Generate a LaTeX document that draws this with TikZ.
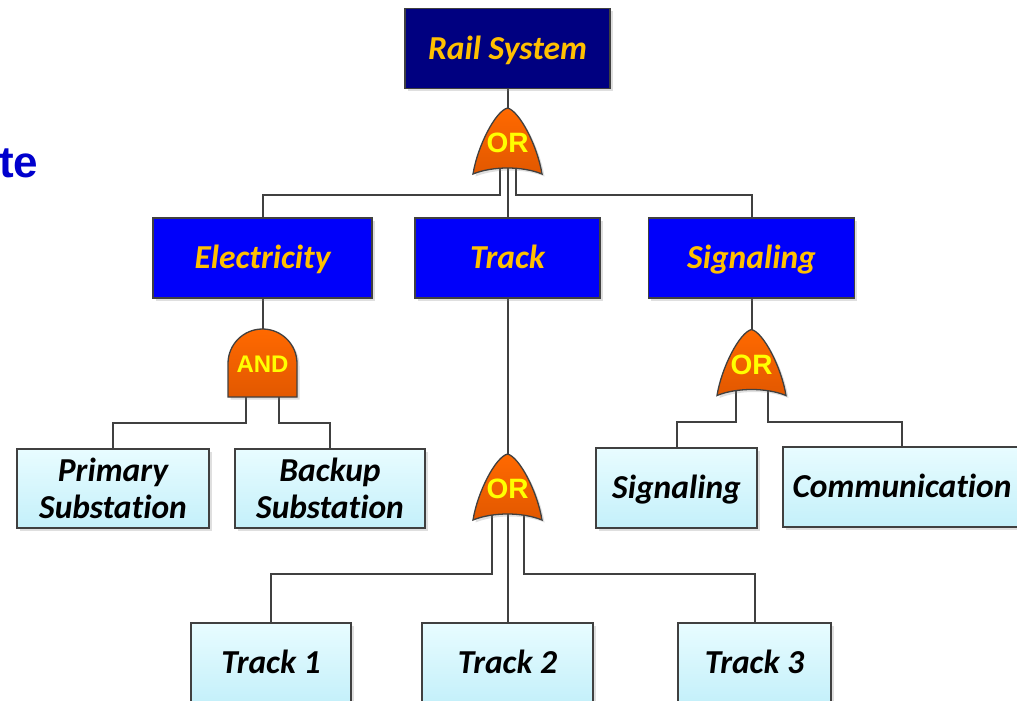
\documentclass[tikz,border=0pt]{standalone}
\usepackage{fontspec}
\setmainfont{Carlito}[Ligatures=NoCommon]
\newfontfamily\gatefont{Liberation Sans}
\usetikzlibrary{shadows,backgrounds}

\definecolor{railnavy}{RGB}{0,0,128}
\definecolor{subblue}{RGB}{0,0,250}
\definecolor{labelgold}{RGB}{255,192,0}
\definecolor{edgegray}{RGB}{64,64,64}
\definecolor{leaftop}{RGB}{232,252,255}
\definecolor{leafbot}{RGB}{196,240,250}
\definecolor{gatetop}{RGB}{255,105,0}
\definecolor{gatebot}{RGB}{226,88,0}
\definecolor{gatetext}{RGB}{255,255,0}
\definecolor{titleblue}{RGB}{0,0,205}

\begin{document}
\begin{tikzpicture}[x=1pt,y=-1pt,
  softshadow/.style={drop shadow={shadow xshift=2.5pt, shadow yshift=-2.5pt, opacity=0.25}},
  box/.style={draw=edgegray, line width=1.3pt, inner sep=0pt, align=center,
    font=\fontsize{33.5}{36.5}\selectfont\bfseries\itshape, softshadow},
  oneline/.style={text height=21.6pt, text depth=0pt},
  topbox/.style={box, oneline, fill=railnavy, text=labelgold},
  midbox/.style={box, oneline, fill=subblue, text=labelgold},
  leafbox/.style={box, top color=leaftop, bottom color=leafbot, text=black},
  wire/.style={draw=edgegray, line width=2pt},
  gatebody/.style={draw=edgegray, line width=1.3pt, top color=gatetop, bottom color=gatebot, softshadow},
  gatelabel/.style={text=gatetext, inner sep=0pt, font=\gatefont\bfseries\fontsize{28}{28}\selectfont},
  pics/orgate/.style={code={
    \path[gatebody] (-34.5,33) .. controls (-30,5) and (-12,-30) .. (0,-33)
      .. controls (12,-30) and (30,5) .. (34.5,33)
      .. controls (15,25) and (-15,25) .. cycle;
    \node[gatelabel] (-lbl) at (0,2) {OR};
    \coordinate (-top) at (0,-33);
    \coordinate (-c) at (0,20);
    \coordinate (-l1) at (-8,20);
    \coordinate (-r1) at (8,20);
    \coordinate (-l2) at (-16,20);
    \coordinate (-r2) at (16,20);
  }},
  pics/andgate/.style={code={
    \path[gatebody] (-34.5,33.5) -- (-34.5,0)
      .. controls (-34.5,-19.05) and (-19.05,-34.5) .. (0,-34.5)
      .. controls (19.05,-34.5) and (34.5,-19.05) .. (34.5,0)
      -- (34.5,33.5) -- cycle;
    \node[gatelabel, font=\gatefont\bfseries\fontsize{24}{24}\selectfont] (-lbl) at (0,0.5) {AND};
    \coordinate (-top) at (0,-34.5);
    \coordinate (-l2) at (-16.5,20);
    \coordinate (-r2) at (16.5,20);
  }},
]
\useasboundingbox (0,0) rectangle (1017,701);
\clip (0,0) rectangle (1017,701);

% heading fragment at the left edge
\node[anchor=base west, inner sep=0pt, text=titleblue,
      font=\gatefont\bfseries\fontsize{44}{44}\selectfont] (head) at (-1,177) {te};

% event boxes
\node[topbox, minimum width=205pt, minimum height=80pt] (rail) at (507.5,48.5) {Rail System};

\node[midbox, minimum width=219pt, minimum height=80pt] (elec) at (262.5,258) {Electricity};
\node[midbox, minimum width=185pt, minimum height=80pt] (track) at (507.5,258) {Track};
\node[midbox, minimum width=206pt, minimum height=80pt] (sig) at (751.5,258) {Signaling};

\node[leafbox, minimum width=192pt, minimum height=79pt] (prim) at (113,488.5) {Primary\\Substation};
\node[leafbox, minimum width=190pt, minimum height=79pt] (back) at (330,488.5) {Backup\\Substation};
\node[leafbox, oneline, minimum width=161pt, minimum height=80pt] (sigb) at (676.5,488) {Signaling};
\node[leafbox, oneline, minimum width=238pt, minimum height=80pt] (comm) at (902,487) {Communication};

\node[leafbox, oneline, minimum width=160pt, minimum height=80pt] (t1) at (271,663) {Track 1};
\node[leafbox, oneline, minimum width=171pt, minimum height=80pt] (t2) at (507.5,663) {Track 2};
\node[leafbox, oneline, minimum width=153pt, minimum height=80pt] (t3) at (754.5,663) {Track 3};

% gates
\pic (g0) at (507.5,141) {orgate};
\pic (ga) at (262.5,363.5) {andgate};
\pic (g2) at (507.5,487) {orgate};
\pic (g3) at (751.5,362.5) {orgate};

% connectors, kept behind the gates
\begin{scope}[on background layer]
  \draw[wire] (rail.south) -- (g0-top);
  \draw[wire] (g0-l1) -- ++(0,34) -| (elec.north);
  \draw[wire] (g0-c) -- (track.north);
  \draw[wire] (g0-r1) -- ++(0,34) -| (sig.north);

  \draw[wire] (elec.south) -- (ga-top);
  \draw[wire] (ga-l2) -- ++(0,39.5) -| (prim.north);
  \draw[wire] (ga-r2) -- ++(0,39.5) -| (back.north);

  \draw[wire] (track.south) -- (g2-top);
  \draw[wire] (g2-l2) -- ++(0,67) -| (t1.north);
  \draw[wire] (g2-c) -- (t2.north);
  \draw[wire] (g2-r2) -- ++(0,67) -| (t3.north);

  \draw[wire] (sig.south) -- (g3-top);
  \draw[wire] (g3-l2) -- ++(0,39) -| (sigb.north);
  \draw[wire] (g3-r2) -- ++(0,39) -| (comm.north);
\end{scope}
\end{tikzpicture}
\end{document}
